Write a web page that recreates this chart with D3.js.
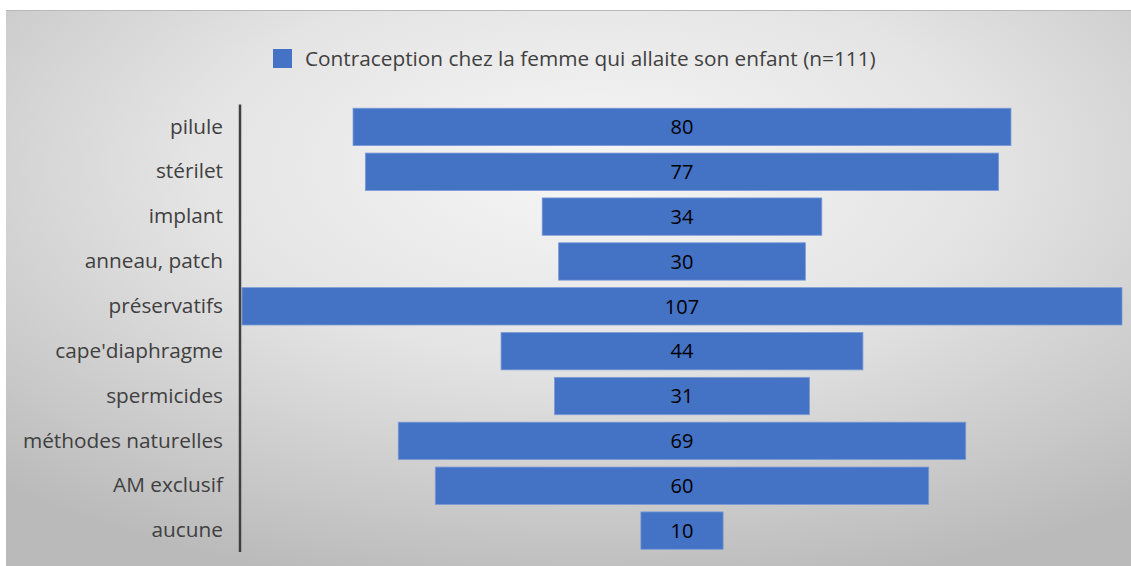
<!DOCTYPE html>
<html>
<head>
<meta charset="utf-8">
<script src="https://cdn.jsdelivr.net/npm/d3@7"></script>
<style>
  body { margin: 0; background: #ffffff; }
  svg { display: block; }
</style>
</head>
<body>
<svg id="chart" width="1131" height="566"></svg>
<script>
var methods = ["pilule", "stérilet", "implant", "anneau, patch", "préservatifs",
               "cape'diaphragme", "spermicides", "méthodes naturelles", "AM exclusif", "aucune"];
var counts = [80, 77, 34, 30, 107, 44, 31, 69, 60, 10];
var seriesName = "Contraception chez la femme qui allaite son enfant (n=111)";

var barData = [];
for (var i = 0; i < methods.length; i++) {
    barData.push({ name: methods[i], value: counts[i] });
}

document.addEventListener('DOMContentLoaded', function () {
    drawChart();
});

function drawChart() {
    const svg = d3.select('#chart');
    svg.selectAll("*").remove();

    // background gradient, light in the middle-top, grey at the edges
    var defs = svg.append('defs');
    var grad = defs.append('radialGradient')
        .attr('id', 'bgGrad')
        .attr('cx', '0.52').attr('cy', '0.28')
        .attr('r', '0.78');
    grad.append('stop').attr('offset', '0%').attr('stop-color', '#f6f6f6');
    grad.append('stop').attr('offset', '45%').attr('stop-color', '#e4e4e4');
    grad.append('stop').attr('offset', '100%').attr('stop-color', '#bababa');

    svg.append('rect')
        .attr('x', 6).attr('y', 10)
        .attr('width', 1125).attr('height', 556)
        .style('fill', 'url(#bgGrad)');
    svg.append('line')
        .attr('x1', 6).attr('x2', 1131)
        .attr('y1', 10.5).attr('y2', 10.5)
        .style('stroke', '#b8b8b8').style('stroke-width', 1);

    let axisX = 240;
    let centerX = 682;

    let y = d3.scaleBand().domain(methods).range([104.5, 553]).paddingInner(0.167).paddingOuter(0.083);
    // half-width scale around the centre line
    let halfW = d3.scaleLinear().domain([0, 107]).range([0, 440]);

    const g = svg.append('g');

    g.selectAll(".bar")
        .data(barData)
        .enter()
        .append('rect')
        .attr('class', 'bar')
        .attr('x', d => centerX - halfW(d.value))
        .attr('y', d => y(d.name))
        .attr('width', d => 2 * halfW(d.value))
        .attr('height', y.bandwidth())
        .style('fill', '#4472c4')
        .style('stroke', '#7b9bd6')
        .style('stroke-width', 0.8);

    g.selectAll(".val")
        .data(barData)
        .enter()
        .append('text')
        .attr('class', 'val')
        .attr('x', centerX)
        .attr('y', d => y(d.name) + y.bandwidth() / 2)
        .attr('dy', '0.36em')
        .attr('text-anchor', 'middle')
        .style('font-family', 'Open Sans, sans-serif')
        .style('font-size', '20px')
        .style('fill', '#000000')
        .text(d => d.value);

    // category axis
    let axisLeft = d3.axisLeft(y).tickSize(0).tickPadding(17);
    let ax = g.append('g')
        .attr('transform', 'translate(' + axisX + ', 0)')
        .call(axisLeft);
    ax.select('.domain')
        .attr('d', 'M0,' + 104.5 + 'V' + 552)
        .style('stroke', '#404040')
        .style('stroke-width', 2.5);
    ax.selectAll('text')
        .style('font-family', 'Open Sans, sans-serif')
        .style('font-size', '20.8px')
        .style('fill', '#404040');

    // legend
    let lg = svg.append('g').attr('transform', 'translate(273, 49)');
    lg.append('rect')
        .attr('width', 19).attr('height', 19)
        .style('fill', '#4472c4');
    lg.append('text')
        .attr('x', 32).attr('y', 9.5)
        .attr('dy', '0.36em')
        .style('font-family', 'Open Sans, sans-serif')
        .style('font-size', '20.8px')
        .style('fill', '#404040')
        .text(seriesName);
}
</script>
</body>
</html>
